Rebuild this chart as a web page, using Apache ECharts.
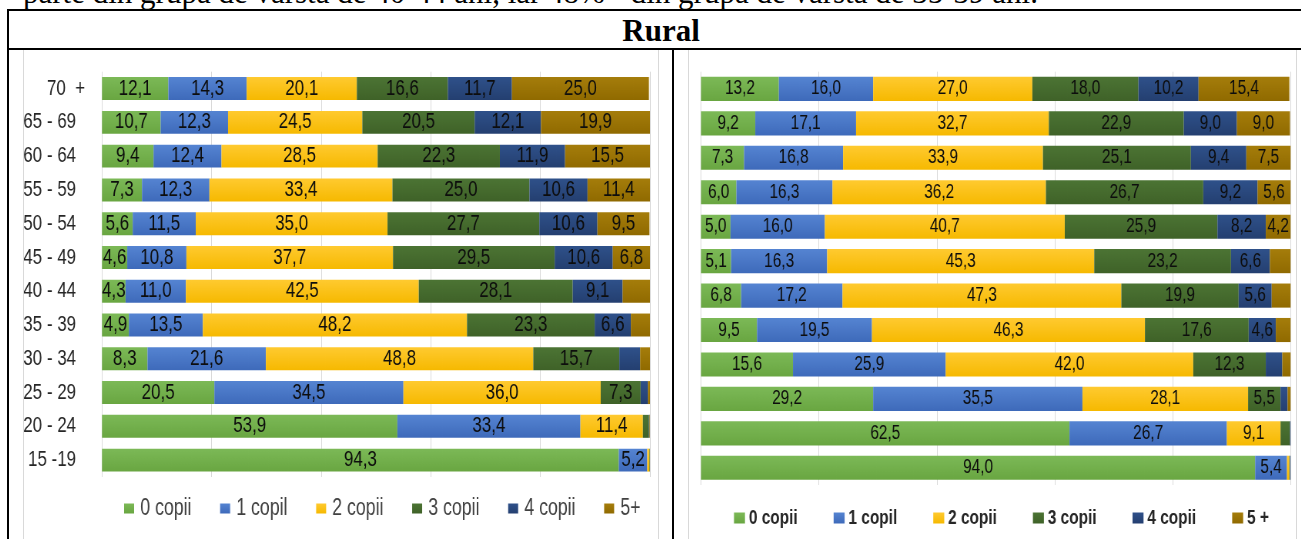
<!DOCTYPE html>
<html lang="ro">
<head>
<meta charset="utf-8">
<title>Rural</title>
<script src="https://cdn.jsdelivr.net/npm/echarts@6/dist/echarts.min.js"></script>
<style>
  html, body { margin: 0; padding: 0; background: #fff; }
  body { width: 1301px; height: 539px; position: relative; overflow: hidden; }
  .abs { position: absolute; }
  .rule { position: absolute; background: #000; }
  .frame { position: absolute; background: #d9d9d9; }
  #lead {
    left: 23px; top: -23px; font: 31px 'Liberation Serif', 'Times New Roman', serif;
    line-height: 31px; white-space: nowrap; color: #000;
  }
  #title {
    left: 561px; top: 15px; width: 200px; text-align: center;
    font: bold 31px 'Liberation Serif', 'Times New Roman', serif; line-height: 31px; color: #000;
  }
  /* charts are laid out wide and squeezed horizontally, like the embedded pictures */
  .squeezed { transform: scaleX(0.77); transform-origin: 0 0; }
  #chartLeft { left: 24px; top: 50px; width: 823px; height: 489px; }
  #chartRight { left: 689px; top: 50px; width: 788px; height: 489px; }
</style>
</head>
<body>
<div id="lead" class="abs">parte din grupa de vârstă de 40-44 ani, iar 48% - din grupa de vârstă de 35-39 ani.</div>

<!-- table rules -->
<div class="rule" style="left:7px; top:9px; width:1300px; height:2px;"></div>
<div class="rule" style="left:7px; top:9px; width:2px; height:540px;"></div>
<div class="rule" style="left:7px; top:48px; width:1300px; height:2px;"></div>
<div class="rule" style="left:672px; top:48px; width:2px; height:500px;"></div>
<div id="title" class="abs">Rural</div>

<!-- chart frames -->
<div class="frame" style="left:23px; top:50px; width:1px; height:500px;"></div>
<div class="frame" style="left:658px; top:50px; width:1px; height:500px;"></div>
<div class="frame" style="left:688px; top:50px; width:1px; height:500px;"></div>
<div class="frame" style="left:1296px; top:50px; width:1px; height:500px;"></div>

<div id="chartLeft" class="abs squeezed"></div>
<div id="chartRight" class="abs squeezed"></div>

<script>
// Age groups, top row first
const ageGroups = ['70  +', '65 - 69', '60 - 64', '55 - 59', '50 - 54', '45 - 49',
                   '40 - 44', '35 - 39', '30 - 34', '25 - 29', '20 - 24', '15 -19'];

const childLabelsLeft  = ['0 copii', '1 copil', '2 copii', '3 copii', '4 copii', '5+'];
const childLabelsRight = ['0 copii', '1 copil', '2 copii', '3 copii', '4 copii', '5 +'];

// Left panel: share (%) by number of children
const leftChildren0 = [12.1, 10.7, 9.4, 7.3, 5.6, 4.6, 4.3, 4.9, 8.3, 20.5, 53.9, 94.3];
const leftChildren1 = [14.3, 12.3, 12.4, 12.3, 11.5, 10.8, 11.0, 13.5, 21.6, 34.5, 33.4, 5.2];
const leftChildren2 = [20.1, 24.5, 28.5, 33.4, 35.0, 37.7, 42.5, 48.2, 48.8, 36.0, 11.4, 0.4];
const leftChildren3 = [16.6, 20.5, 22.3, 25.0, 27.7, 29.5, 28.1, 23.3, 15.7, 7.3, 1.1, 0.1];
const leftChildren4 = [11.7, 12.1, 11.9, 10.6, 10.6, 10.6, 9.1, 6.6, 3.8, 1.3, 0.1, 0.0];
const leftChildren5 = [25.0, 19.9, 15.5, 11.4, 9.5, 6.8, 5.0, 3.5, 1.8, 0.4, 0.1, 0.0];

// Right panel
const rightChildren0 = [13.2, 9.2, 7.3, 6.0, 5.0, 5.1, 6.8, 9.5, 15.6, 29.2, 62.5, 94.0];
const rightChildren1 = [16.0, 17.1, 16.8, 16.3, 16.0, 16.3, 17.2, 19.5, 25.9, 35.5, 26.7, 5.4];
const rightChildren2 = [27.0, 32.7, 33.9, 36.2, 40.7, 45.3, 47.3, 46.3, 42.0, 28.1, 9.1, 0.4];
const rightChildren3 = [18.0, 22.9, 25.1, 26.7, 25.9, 23.2, 19.9, 17.6, 12.3, 5.5, 1.6, 0.1];
const rightChildren4 = [10.2, 9.0, 9.4, 9.2, 8.2, 6.6, 5.6, 4.6, 2.8, 1.2, 0.1, 0.1];
const rightChildren5 = [15.4, 9.0, 7.5, 5.6, 4.2, 3.5, 3.2, 2.5, 1.4, 0.5, 0.0, 0.0];

// Value labels left out on the left panel: [series, row]
const leftUnlabelled = [[5, 6]];

// Segment fills: [lighter top, base bottom]
const fills = [
  ['#7cb957', '#69a641'],
  ['#5584d2', '#3e6aba'],
  ['#ffca30', '#f6b900'],
  ['#4c7434', '#3f6228'],
  ['#2f518a', '#243f70'],
  ['#a57d0b', '#906a00']
];

const sans = "'Liberation Sans', Arial, sans-serif";

function grad(i) {
  return new echarts.graphic.LinearGradient(0, 0, 0, 1, [
    { offset: 0, color: fills[i][0] },
    { offset: 1, color: fills[i][1] }
  ]);
}

function makeLabel(skip) {
  return function (p) {
    if (p.value < 4) return '';
    if (skip.some(s => s[0] === p.seriesIndex && s[1] === p.dataIndex)) return '';
    return p.value.toFixed(1).replace('.', ',');
  };
}

function buildSeries(names, columns, fontSize, barWidth, skip) {
  return columns.map((vals, i) => ({
    name: names[i],
    type: 'bar',
    stack: 'total',
    barWidth: barWidth,
    data: vals,
    itemStyle: { color: grad(i) },
    label: {
      show: true,
      position: 'inside',
      formatter: makeLabel(skip),
      color: '#0d0d0d',
      fontFamily: sans,
      fontSize: fontSize
    },
    emphasis: { disabled: true }
  }));
}

function valueAxis() {
  return {
    type: 'value', min: 0, max: 100, interval: 20,
    axisLabel: { show: false }, axisLine: { show: false }, axisTick: { show: false },
    splitLine: { show: true, lineStyle: { color: '#d9d9d9', width: 1 } }
  };
}

const left = echarts.init(document.getElementById('chartLeft'), null, { renderer: 'canvas' });
left.setOption({
  animation: false,
  grid: { left: 101.3, right: 10, top: 21.7, height: 405.3, outerBoundsMode: 'none' },
  xAxis: valueAxis(),
  yAxis: {
    type: 'category', inverse: true, data: ageGroups,
    axisLine: { show: false }, axisTick: { show: false },
    axisLabel: {
      margin: 22,
      color: '#262626', fontFamily: sans, fontSize: 22,
      formatter: v => v === ageGroups[0] ? v : '{p|' + v + '}',
      rich: { p: { padding: [0, 11.7, 0, 0], color: '#262626', fontFamily: sans, fontSize: 22 } }
    }
  },
  legend: {
    left: 125, top: 442, width: 760, itemWidth: 13, itemHeight: 10, itemGap: 37.2,
    icon: 'rect', selectedMode: false,
    textStyle: { color: '#404040', fontFamily: sans, fontSize: 23, width: 66, lineHeight: 22, padding: [0, 0, 0, 3] },
    data: childLabelsLeft
  },
  series: buildSeries(childLabelsLeft,
    [leftChildren0, leftChildren1, leftChildren2, leftChildren3, leftChildren4, leftChildren5],
    22, '68%', leftUnlabelled)
});

const right = echarts.init(document.getElementById('chartRight'), null, { renderer: 'canvas' });
right.setOption({
  animation: false,
  grid: { left: 15.6, right: 6.8, top: 21.7, height: 413.3, outerBoundsMode: 'none' },
  xAxis: valueAxis(),
  yAxis: {
    type: 'category', inverse: true, data: ageGroups,
    axisLine: { show: false }, axisTick: { show: false }, axisLabel: { show: false }
  },
  legend: {
    left: 53.4, top: 452, width: 740, itemWidth: 14.3, itemHeight: 11, itemGap: 46.1,
    icon: 'rect', selectedMode: false,
    textStyle: { color: '#262626', fontFamily: sans, fontWeight: 'bold', fontSize: 20, width: 64, lineHeight: 22 },
    data: childLabelsRight
  },
  series: buildSeries(childLabelsRight,
    [rightChildren0, rightChildren1, rightChildren2, rightChildren3, rightChildren4, rightChildren5],
    20, '70%', [])
});
</script>
</body>
</html>
